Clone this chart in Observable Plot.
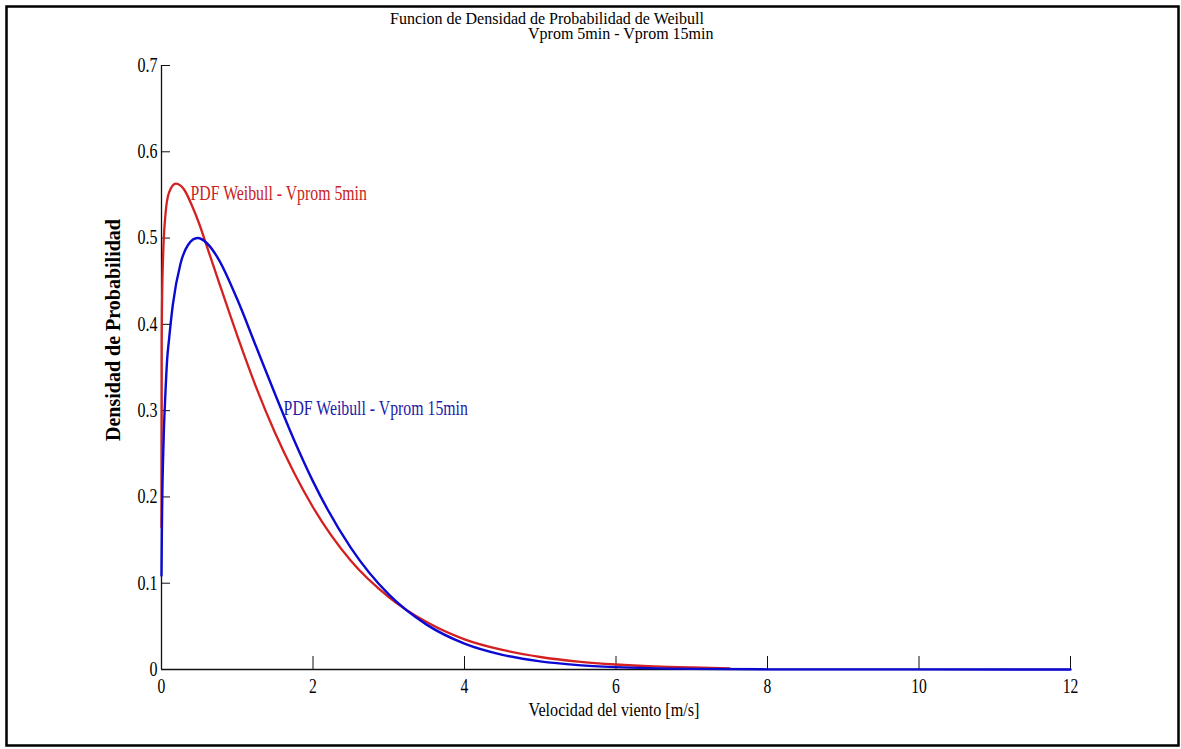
<!DOCTYPE html>
<html><head><meta charset="utf-8">
<script src="https://cdn.jsdelivr.net/npm/d3@7"></script>
<script src="https://cdn.jsdelivr.net/npm/@observablehq/plot@0.6"></script>
<style>body{margin:0;background:#fff;} svg{display:block;}</style>
</head><body><div id="chart"></div>
<script>
// Weibull PDF, 5-minute average wind speed
const speed5 = [0, 0.003, 0.01, 0.02, 0.05, 0.1, 0.19, 0.3, 0.4, 0.5, 0.6, 0.75, 1.0, 1.25, 1.5, 1.75, 2.0, 2.5, 3.0, 3.5, 4.0, 4.5, 5.0, 5.5, 6.0, 6.5, 7.0, 7.5];
const dens5  = [0.165, 0.38, 0.44, 0.476, 0.525, 0.553, 0.563, 0.556, 0.538, 0.516, 0.49, 0.451, 0.387, 0.327, 0.274, 0.228, 0.188, 0.126, 0.084, 0.055, 0.035, 0.0227, 0.0145, 0.0092, 0.0058, 0.0036, 0.0023, 0.0014];
// Weibull PDF, 15-minute average wind speed
const speed15 = [0, 0.005, 0.01, 0.02, 0.03, 0.05, 0.075, 0.1, 0.15, 0.25, 0.35, 0.475, 0.6, 0.75, 1.0, 1.25, 1.5, 1.75, 2.0, 2.5, 3.0, 3.5, 4.0, 4.5, 5.0, 5.5, 6.0, 7.0, 8.0, 10.0, 12.0];
const dens15  = [0.109, 0.161, 0.198, 0.241, 0.273, 0.317, 0.36, 0.383, 0.423, 0.470, 0.492, 0.500, 0.494, 0.476, 0.429, 0.374, 0.319, 0.266, 0.218, 0.141, 0.087, 0.052, 0.030, 0.017, 0.0094, 0.0051, 0.0027, 0.0007, 0.0002, 0.0001, 0.0];

const xTicks = [0, 2, 4, 6, 8, 10, 12];
const yTicks = [0, 0.1, 0.2, 0.3, 0.4, 0.5, 0.6, 0.7];

const seriesNames = ["PDF Weibull - Vprom 5min", "PDF Weibull - Vprom 15min"];
const labelX = [0.383, 1.612];
const labelY = [0.552, 0.302];

const titleLines = ["Funcion de Densidad de Probabilidad de Weibull", "Vprom 5min - Vprom 15min"];
const xLabel = "Velocidad del viento [m/s]";
const yLabel = "Densidad de Probabilidad";

const RED = "#d42020", BLUE = "#0a0ad2";
const RED_TXT = "#c82222", BLUE_TXT = "#1c1ca8";

const data5 = speed5.map((x, i) => ({x, y: dens5[i]}));
const data15 = speed15.map((x, i) => ({x, y: dens15[i]}));
const labels = seriesNames.map((t, i) => ({t, x: labelX[i], y: labelY[i], c: i === 0 ? RED_TXT : BLUE_TXT}));

const W = 1181, H = 749;
const plot = Plot.plot({
  width: W, height: H,
  marginLeft: 161, marginRight: 111, marginTop: 65, marginBottom: 80,
  style: {fontFamily: "'Liberation Serif', 'Times New Roman', serif", fontSize: "20px", background: "#fff", color: "#000"},
  x: {domain: [0, 12]},
  y: {domain: [0, 0.7]},
  marks: [
    Plot.ruleX([0], {stroke: "#111", strokeWidth: 1.3}),
    Plot.ruleY([0], {stroke: "#111", strokeWidth: 1.3}),
    Plot.axisX({ticks: xTicks, tickSize: -13, tickPadding: 22, tickFormat: d => String(d), label: null, stroke: "#111"}),
    Plot.axisY({ticks: yTicks, tickSize: -9, tickPadding: 13, tickFormat: d => d === 0 ? "0" : d.toFixed(1), label: null, stroke: "#111"}),
    Plot.line(data5, {x: "x", y: "y", stroke: RED, strokeWidth: 2.3, curve: "monotone-x"}),
    Plot.line(data15, {x: "x", y: "y", stroke: BLUE, strokeWidth: 2.4, curve: "monotone-x"}),
    Plot.text(labels, {x: "x", y: "y", text: "t", fill: "c", textAnchor: "start", fontSize: 20})
  ]
});
document.getElementById("chart").appendChild(plot);

const svg = d3.select(plot);
// figure border
svg.append("rect").attr("x", 6.5).attr("y", 6.5).attr("width", 1172).attr("height", 739)
  .attr("fill", "none").attr("stroke", "#000").attr("stroke-width", 2.5);
// title
svg.append("text").attr("x", 390).attr("y", 24).attr("text-anchor", "start").attr("font-size", 16).text(titleLines[0]);
svg.append("text").attr("x", 528).attr("y", 39).attr("text-anchor", "start").attr("font-size", 16).text(titleLines[1]);
// axis labels
svg.append("text").attr("x", 614).attr("y", 716).attr("text-anchor", "middle").attr("font-size", 19).attr("class", "cond").text(xLabel);
svg.append("text").attr("transform", "translate(120,330) rotate(-90)").attr("text-anchor", "middle")
  .attr("font-size", 20).attr("font-weight", "bold").text(yLabel);

function condense(sel, f) {
  plot.querySelectorAll(sel).forEach(t => {
    const len = t.getComputedTextLength();
    if (len > 0) { t.setAttribute("textLength", (len * f).toFixed(2)); t.setAttribute("lengthAdjust", "spacingAndGlyphs"); }
  });
}
condense('g[aria-label="x-axis tick label"] text', 0.78);
condense('g[aria-label="y-axis tick label"] text', 0.8);
condense('g[aria-label="text"] text', 0.79);
condense('text.cond', 0.85);
</script>
</body></html>
